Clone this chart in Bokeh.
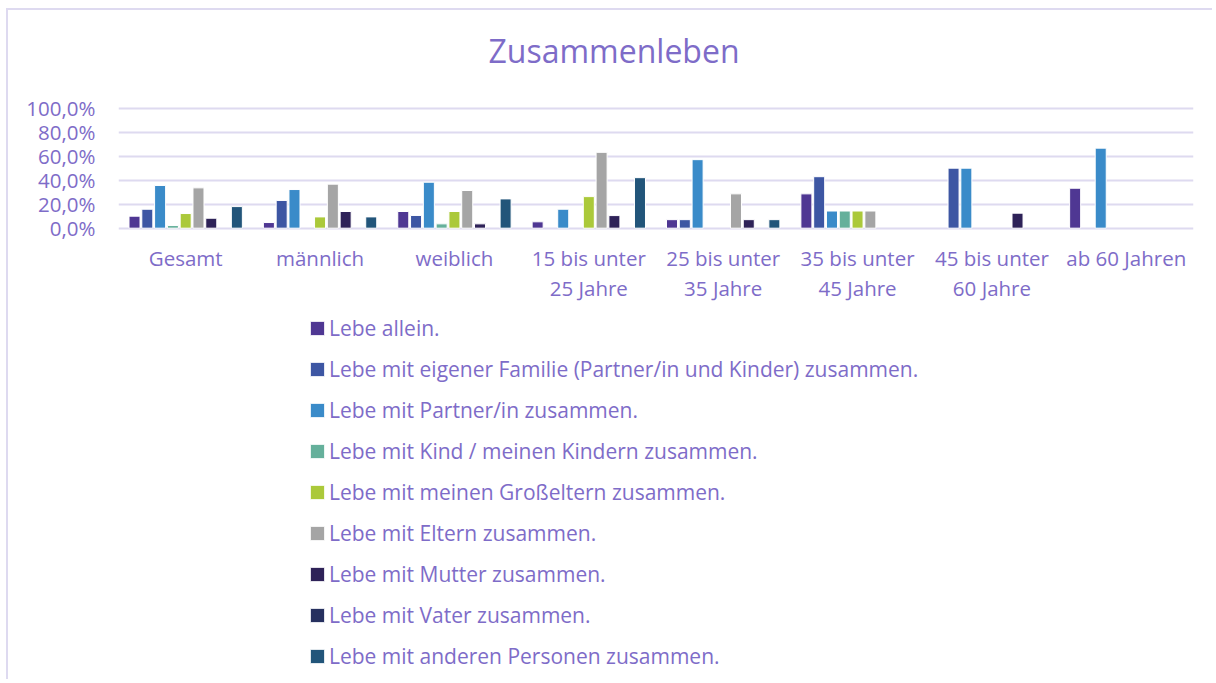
from bokeh.plotting import figure
from bokeh.models import FactorRange, ColumnDataSource, FixedTicker, Legend, LegendItem, Title
from bokeh.transform import dodge
from bokeh.core.properties import value
from bokeh.embed import file_html
from bokeh.resources import INLINE

categories = ["Gesamt", "männlich", "weiblich", "15 bis unter\n25 Jahre", "25 bis unter\n35 Jahre",
              "35 bis unter\n45 Jahre", "45 bis unter\n60 Jahre", "ab 60 Jahren"]

series_names = [
    "Lebe allein.",
    "Lebe mit eigener Familie (Partner/in und Kinder) zusammen.",
    "Lebe mit Partner/in zusammen.",
    "Lebe mit Kind / meinen Kindern zusammen.",
    "Lebe mit meinen Großeltern zusammen.",
    "Lebe mit Eltern zusammen.",
    "Lebe mit Mutter zusammen.",
    "Lebe mit Vater zusammen.",
    "Lebe mit anderen Personen zusammen.",
]

allein = [10.0, 4.7, 13.9, 5.3, 7.1, 28.6, 0, 33.3]
familie = [15.8, 23.1, 10.6, 0, 7.1, 42.9, 50.0, 0]
partner = [35.6, 32.2, 38.3, 15.8, 57.1, 14.3, 50.0, 66.7]
kind = [2.2, 0, 3.6, 0, 0, 14.3, 0, 0]
grosseltern = [12.2, 9.4, 13.9, 26.3, 0, 14.3, 0, 0]
eltern = [33.6, 36.7, 31.4, 63.2, 28.6, 14.3, 0, 0]
mutter = [8.3, 13.9, 3.6, 10.5, 7.1, 0, 12.5, 0]
vater = [0, 0, 0, 0, 0, 0, 0, 0]
andere = [18.0, 9.4, 24.4, 42.1, 7.1, 0, 0, 0]

series_values = [allein, familie, partner, kind, grosseltern, eltern, mutter, vater, andere]

colors = ["#4F3793", "#3D56A3", "#3A8BC9", "#65B09B", "#ABC93A",
          "#A5A5A5", "#2E2258", "#26305F", "#22557A"]

y_ticks = [0, 20, 40, 60, 80, 100]
y_tick_labels = ["0,0%", "20,0%", "40,0%", "60,0%", "80,0%", "100,0%"]

TEXT = "#7E6CC8"
GRID = "#DEDAF0"
FONT = "Open Sans"

# 1.2 px per percent; the lower part of the frame holds category labels and legend
Y_TOP = 101.4
Y_BOTTOM = -377.75
LABEL_Y = -13.0

p = figure(x_range=FactorRange(*categories), y_range=(Y_BOTTOM, Y_TOP),
           width=1206, height=671, output_backend="svg", toolbar_location=None,
           x_axis_location=None,
           min_border_left=110, min_border_right=21, min_border_top=96, min_border_bottom=0,
           title="Zusammenleben")
p.styles = {"margin-left": "6px", "margin-top": "8px",
            "border-top": f"2px solid {GRID}", "border-left": f"2px solid {GRID}"}

p.title.text_font = FONT
p.title.text_font_size = "32px"
p.title.text_font_style = "normal"
p.title.text_color = TEXT
p.title.align = "left"
p.title.offset = 370
p.title.standoff = 0

# empty spacer between title and plot area
spacer = Title(text=" ", text_font_size="10px", standoff=22)
p.above = [spacer] + [a for a in p.above]

p.outline_line_color = None
p.xgrid.grid_line_color = None
p.ygrid.grid_line_color = GRID
p.ygrid.grid_line_width = 2
p.ygrid.ticker = FixedTicker(ticks=y_ticks)

p.yaxis.ticker = FixedTicker(ticks=y_ticks)
p.yaxis.major_label_overrides = {t: l for t, l in zip(y_ticks, y_tick_labels)}
p.yaxis.axis_line_color = None
p.yaxis.major_tick_line_color = None
p.yaxis.minor_tick_line_color = None
p.yaxis.major_label_text_color = TEXT
p.yaxis.major_label_text_font = FONT
p.yaxis.major_label_text_font_size = "20.5px"
p.yaxis.major_label_standoff = 17

n = len(series_names)
slot = 0.0952
items = []
for i, (name, vals, col) in enumerate(zip(series_names, series_values, colors)):
    tops = [v if v > 0 else float("nan") for v in vals]
    src = ColumnDataSource(dict(cat=categories, top=tops))
    r = p.vbar(x=dodge("cat", (i - (n - 1) / 2) * slot, range=p.x_range), top="top", bottom=0,
               width=0.082, source=src, fill_color=col, line_color="white", line_width=1)
    items.append(LegendItem(label=name, renderers=[r]))

# category labels under the bars
lab_src = ColumnDataSource(dict(cat=categories, y=[LABEL_Y] * len(categories)))
p.text(x="cat", y="y", text="cat", source=lab_src, text_align="center", text_baseline="top",
       text_font=value(FONT), text_font_size="20.5px", text_color=TEXT, text_line_height=1.08)

legend = Legend(items=items, orientation="vertical", location=(190, 11))
legend.border_line_color = None
legend.background_fill_alpha = 0
legend.glyph_width = 18
legend.glyph_height = 18
legend.label_height = 20
legend.spacing = 13
legend.label_standoff = 3
legend.label_text_font = FONT
legend.label_text_font_size = "21px"
legend.label_text_color = TEXT
legend.padding = 0
legend.margin = 0
p.add_layout(legend, "center")

open("out.html", "w").write(file_html(p, INLINE))
